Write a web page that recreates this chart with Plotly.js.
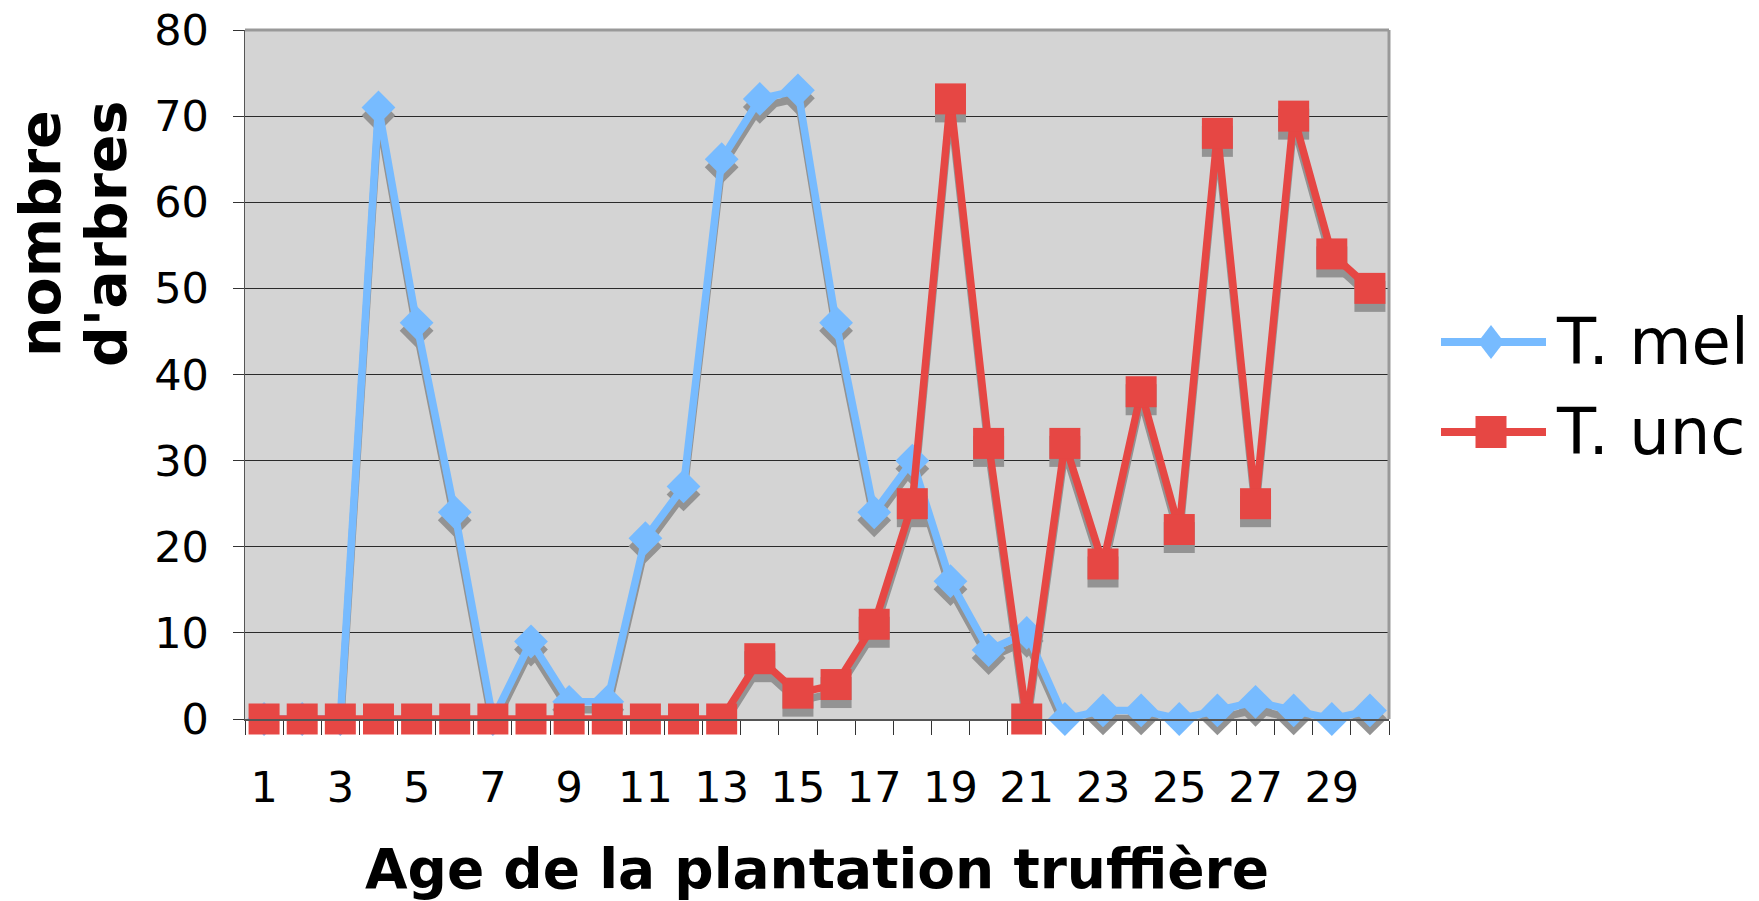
<!DOCTYPE html>
<html>
<head>
<meta charset="utf-8">
<script src="https://cdn.plot.ly/plotly-3.0.1.min.js"></script>
<style>
  html, body { margin: 0; padding: 0; background: #ffffff; }
  #chart { width: 1759px; height: 901px; }
</style>
</head>
<body>
<div id="chart"></div>
<script>
// ---- data ----
const ages = [1,2,3,4,5,6,7,8,9,10,11,12,13,14,15,16,17,18,19,20,21,22,23,24,25,26,27,28,29,30];
const tickAges = [1,3,5,7,9,11,13,15,17,19,21,23,25,27,29];
const tickLabels = ["1","3","5","7","9","11","13","15","17","19","21","23","25","27","29"];
const tMel = [0,0,0,71,46,24,0,9,2,2,21,27,65,72,73,46,24,30,16,8,10,0,1,1,0,1,2,1,0,1];
const tUnc = [0,0,0,0,0,0,0,0,0,0,0,0,0,7,3,4,11,25,72,32,0,32,18,38,22,68,25,70,54,50];
const seriesNames = ["T. mel", "T. unc"];
const yTitleLines = ["nombre", "d'arbres"];
const xTitle = "Age de la plantation truffière";

// ---- styling ----
const BLUE = "#77bbff";
const RED = "#e64744";
const SHADOW = "#939393";
const FONT = "DejaVu Sans";
const LINE_W = 7.5;

const plotL = 245, plotR = 1389, plotT = 30, plotB = 719;
const W = 1759, H = 901;
const pxPerUnit = (plotB - plotT) / 80;
const shadowShift = 8 / pxPerUnit;

function px2paperX(px) { return (px - plotL) / (plotR - plotL); }
function px2paperY(py) { return (plotB - py) / (plotB - plotT); }

const melMarker = { symbol: "diamond", size: 26, color: BLUE, line: { width: 0 } };
const uncMarker = { symbol: "square", size: 31, color: RED, line: { width: 0 } };

const traces = [
  // drop shadows (base axis, shifted a few pixels down)
  { x: ages, y: tMel, xaxis: "x", yaxis: "y", type: "scatter", mode: "lines+markers",
    line: { color: SHADOW, width: LINE_W }, marker: Object.assign({}, melMarker, { color: SHADOW }),
    showlegend: false, hoverinfo: "skip", cliponaxis: false },
  { x: ages, y: tUnc, xaxis: "x", yaxis: "y", type: "scatter", mode: "lines+markers",
    line: { color: SHADOW, width: LINE_W }, marker: Object.assign({}, uncMarker, { color: SHADOW }),
    showlegend: false, hoverinfo: "skip", cliponaxis: false },
  // series (value axis)
  { x: ages, y: tMel, xaxis: "x", yaxis: "y2", name: seriesNames[0], type: "scatter", mode: "lines+markers",
    line: { color: BLUE, width: LINE_W }, marker: melMarker, showlegend: false, cliponaxis: false },
  { x: ages, y: tUnc, xaxis: "x", yaxis: "y2", name: seriesNames[1], type: "scatter", mode: "lines+markers",
    line: { color: RED, width: LINE_W }, marker: uncMarker, showlegend: false, cliponaxis: false }
];

// legend (drawn to match the long legend keys of the reference)
const legY = [342, 432];
const legX0 = 1441, legX1 = 1546, legXm = 1491, legTextX = 1554;
const shapes = [
  // top and right frame of the plot area
  { type: "line", xref: "paper", yref: "paper", x0: 0, x1: 1, y0: 1, y1: 1, line: { color: "#999999", width: 3 } },
  { type: "line", xref: "paper", yref: "paper", x0: 1, x1: 1, y0: 0, y1: 1, line: { color: "#999999", width: 3 } },
  // legend keys
  { type: "line", xref: "paper", yref: "paper", x0: px2paperX(legX0), x1: px2paperX(legX1),
    y0: px2paperY(legY[0]), y1: px2paperY(legY[0]), line: { color: BLUE, width: 8 } },
  { type: "path", xref: "paper", yref: "paper", xsizemode: "pixel", ysizemode: "pixel",
    xanchor: px2paperX(legXm), yanchor: px2paperY(legY[0]),
    path: "M -13 0 L 0 17 L 13 0 L 0 -17 Z", fillcolor: BLUE, line: { width: 0 } },
  { type: "line", xref: "paper", yref: "paper", x0: px2paperX(legX0), x1: px2paperX(legX1),
    y0: px2paperY(legY[1]), y1: px2paperY(legY[1]), line: { color: RED, width: 8 } },
  { type: "rect", xref: "paper", yref: "paper", xsizemode: "pixel", ysizemode: "pixel",
    xanchor: px2paperX(legXm), yanchor: px2paperY(legY[1]),
    x0: -15.5, x1: 15.5, y0: -16, y1: 16, fillcolor: RED, line: { width: 0 } }
];

const annotations = [
  { text: yTitleLines[0], xref: "paper", yref: "paper", x: px2paperX(40), y: px2paperY(234),
    xanchor: "center", yanchor: "middle", textangle: -90, showarrow: false,
    font: { family: FONT, size: 57, weight: "bold", color: "#000" } },
  { text: yTitleLines[1], xref: "paper", yref: "paper", x: px2paperX(106), y: px2paperY(234),
    xanchor: "center", yanchor: "middle", textangle: -90, showarrow: false,
    font: { family: FONT, size: 57, weight: "bold", color: "#000" } },
  { text: seriesNames[0], xref: "paper", yref: "paper", x: px2paperX(legTextX), y: px2paperY(legY[0]),
    xanchor: "left", yanchor: "middle", showarrow: false,
    font: { family: FONT, size: 64, color: "#000" } },
  { text: seriesNames[1], xref: "paper", yref: "paper", x: px2paperX(legTextX), y: px2paperY(legY[1]),
    xanchor: "left", yanchor: "middle", showarrow: false,
    font: { family: FONT, size: 64, color: "#000" } }
];

const layout = {
  width: W, height: H,
  margin: { l: plotL, r: W - plotR, t: plotT, b: H - plotB, pad: 0 },
  paper_bgcolor: "#ffffff",
  plot_bgcolor: "#d4d4d4",
  font: { family: FONT, color: "#000" },
  showlegend: false,
  xaxis: {
    type: "linear", range: [0.5, 30.5], fixedrange: true,
    tickmode: "array", tickvals: tickAges, ticktext: tickLabels,
    ticks: "", showgrid: false, zeroline: false,
    showline: true, linecolor: "#555555", linewidth: 1.5,
    tickfont: { family: FONT, size: 43, color: "#000" },
    ticklabelstandoff: 30,
    minor: { tick0: 0.5, dtick: 1, ticks: "outside", ticklen: 14, tickwidth: 1, tickcolor: "#333", showgrid: false },
    title: { text: xTitle, font: { family: FONT, size: 55, weight: "bold", color: "#000" }, standoff: 38 },
    automargin: false
  },
  // base axis: carries the shadows, shifted down by a few pixels, not shown
  yaxis: {
    range: [shadowShift, 80 + shadowShift], fixedrange: true,
    showgrid: false, zeroline: false, showline: false, ticks: "", showticklabels: false,
    automargin: false
  },
  // value axis
  yaxis2: {
    overlaying: "y", side: "left",
    range: [0, 80], dtick: 10, tick0: 0, fixedrange: true,
    ticks: "outside", ticklen: 11, tickwidth: 1, tickcolor: "#333",
    showgrid: true, gridcolor: "#2a2a2a", gridwidth: 1, zeroline: false,
    showline: true, linecolor: "#555555", linewidth: 1.5,
    tickfont: { family: FONT, size: 43, color: "#000" },
    ticklabelstandoff: 15,
    automargin: false
  },
  shapes: shapes,
  annotations: annotations
};

Plotly.newPlot("chart", traces, layout, { displayModeBar: false, staticPlot: true });
</script>
</body>
</html>
